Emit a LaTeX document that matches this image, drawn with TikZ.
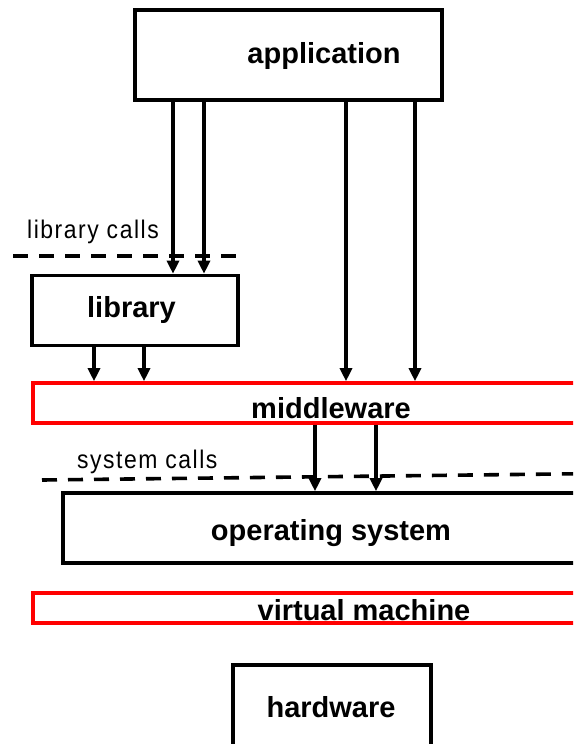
\documentclass[tikz,border=0pt]{standalone}
\usepackage{fontspec}
\setmainfont{Liberation Sans}
\newfontfamily\callsfont[FakeStretch=0.9,LetterSpace=6]{Liberation Sans}
\usetikzlibrary{arrows.meta}

\begin{document}
\begin{tikzpicture}[x=1pt, y=-1pt,
  layer/.style={rectangle, draw=black, line width=3.6pt, inner sep=0pt},
  redlayer/.style={layer, draw=red},
  lbl/.style={font=\fontsize{29}{34}\selectfont\bfseries, inner sep=0pt, anchor=base},
  calls/.style={font=\fontsize{25.5}{30}\selectfont\callsfont, inner sep=0pt, anchor=base west},
  callline/.style={line width=3.6pt, dash pattern=on 15pt off 11pt},
  arr/.style={line width=3.2pt, -{Triangle[length=13pt,width=12pt]}}]
\useasboundingbox (0,0) rectangle (573,744);
\clip (0,0) rectangle (573,744);

% layers
\node[layer, minimum width=307, minimum height=90] (app) at (288.5,55) {};
\node[layer, minimum width=206, minimum height=70] (lib) at (135,310.5) {};
\node[redlayer, minimum width=600, minimum height=40] (mw) at (333,403) {};
\node[layer, minimum width=560, minimum height=70] (os) at (343,528) {};
\node[redlayer, minimum width=600, minimum height=30] (vm) at (333,608) {};
\node[layer, minimum width=198, minimum height=86] (hw) at (332,708) {};

% layer names
\node[lbl] (apptext) at (324,63) {application};
\node[lbl] (libtext) at (131.5,317) {library};
\node[lbl] (mwtext) at (331,418) {middleware};
\node[lbl] (ostext) at (331,540) {operating system};
\node[lbl] (vmtext) at (364,620) {virtual machine};
\node[lbl] (hwtext) at (331,717) {hardware};

% call boundaries
\node[calls] (libcalls) at (27,238) {library calls};
\draw[callline] (13,256) -- (240,256);
\node[calls] (syscalls) at (77,468) {system calls};
\draw[callline] (42,480) -- (600,473.5);

% arrows
\foreach \x in {173,204}
  \draw[arr] (\x,0 |- app.south) -- (\x,0 |- lib.north);
\foreach \x in {346,415}
  \draw[arr] (\x,0 |- app.south) -- (\x,0 |- mw.north);
\foreach \x in {94,144}
  \draw[arr] (\x,0 |- lib.south) -- (\x,0 |- mw.north);
\foreach \x in {315,376}
  \draw[arr] (\x,0 |- mw.south) -- (\x,0 |- os.north);
\end{tikzpicture}
\end{document}
